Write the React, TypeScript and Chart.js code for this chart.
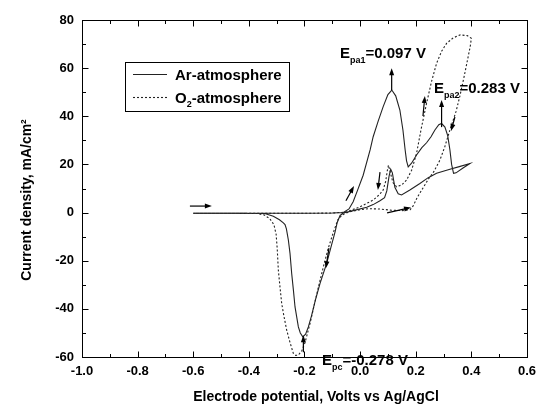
import React, { useEffect, useRef } from "react";
import { Chart, registerables } from "chart.js";

Chart.register(...registerables);

const FONT = "'Liberation Sans', Arial, Helvetica, sans-serif";

// ---- axis ticks ----
const xTickValues = [-1.0, -0.8, -0.6, -0.4, -0.2, 0.0, 0.2, 0.4, 0.6];
const yTickValues = [-60, -40, -20, 0, 20, 40, 60, 80];

// ---- Ar-atmosphere (solid) cyclic voltammogram ----
const arPotential = [
  -0.6, -0.5, -0.4, -0.3, -0.2, -0.1, -0.06, -0.04, -0.025, -0.01, 0.011, 0.036, 0.047, 0.065, 0.083, 0.1,
  0.114, 0.128, 0.143, 0.154, 0.162, 0.167, 0.173, 0.185, 0.203, 0.222, 0.239, 0.255, 0.269, 0.283, 0.293,
  0.305, 0.315, 0.323, 0.329, 0.336, 0.345, 0.37, 0.395,
  0.36, 0.323, 0.275, 0.245, 0.215, 0.179, 0.149, 0.137, 0.125, 0.116, 0.11, 0.104, 0.096, 0.088, 0.07,
  0.047, 0.024, -0.025, -0.06, -0.072, -0.082, -0.09, -0.105, -0.12, -0.144, -0.16, -0.175, -0.186, -0.196,
  -0.206, -0.215, -0.222, -0.234, -0.24, -0.246, -0.252, -0.258, -0.265, -0.27, -0.276, -0.29, -0.312,
  -0.34, -0.372, -0.45, -0.6,
];
const arCurrent = [
  -0.3, -0.3, -0.3, -0.3, -0.3, -0.2, 0.0, 1.5, 4.5, 9, 15.5, 26, 31.5, 38, 44, 49,
  50.9, 48.5, 42.6, 34.3, 26, 21.5, 19, 20.5, 23.9, 27, 29, 31.5, 34.3, 36.5, 37,
  35.5, 32, 26, 20, 16.3, 16.5, 18.5, 20.4,
  19.2, 18, 16.3, 14.5, 12.1, 9.4, 7.3, 7.8, 10.5, 16.5, 18, 15, 9, 6.2, 4.8,
  3.3, 2.2, 0.8, -0.2, -1.2, -4, -8, -14.5, -21, -29.4, -36, -43, -47.5, -50.5,
  -51.6, -50, -47.5, -39.2, -32, -25.3, -17, -11.4, -6.8, -5, -4.3, -3, -1.5,
  -0.5, -0.3, -0.3, -0.3,
];

// ---- O2-atmosphere (dotted) cyclic voltammogram ----
const o2Potential = [
  -0.6, -0.4, -0.2, -0.1, -0.05, 0.0, 0.047, 0.07, 0.083, 0.092, 0.098, 0.102, 0.108, 0.118, 0.131, 0.15,
  0.167, 0.185, 0.203, 0.22, 0.239, 0.257, 0.275, 0.293, 0.311, 0.335, 0.36, 0.385, 0.4,
  0.396, 0.389, 0.375, 0.359, 0.345, 0.323, 0.305, 0.287, 0.265, 0.245, 0.225, 0.205, 0.192, 0.18, 0.15,
  0.11, 0.07, 0.03, 0.0, -0.04, -0.065, -0.08, -0.097, -0.115, -0.132, -0.15, -0.165, -0.18, -0.198, -0.21,
  -0.222, -0.232, -0.24, -0.252, -0.264, -0.274, -0.282, -0.288, -0.294, -0.298, -0.302, -0.31, -0.325,
  -0.345, -0.37, -0.45, -0.6,
];
const o2Current = [
  -0.3, -0.3, -0.3, -0.2, 0.2, 2.4, 5.2, 7.5, 9.4, 13, 17.5, 19.7, 17, 12.5, 10.7, 11.5,
  13.5, 17.5, 24.6, 35, 45.4, 54.5, 62, 67, 70.3, 72.6, 73.8, 73.5, 72.4,
  69, 65, 57, 48.5, 42, 34.3, 27.5, 21.8, 17, 13.8, 10, 6.2, 3, 1.2, 0.8,
  1, 1.5, 1.6, 1.2, 0.3, -1, -3, -8.5, -15, -22.5, -31, -38.5, -46, -54, -57.5,
  -59.2, -59.3, -58.5, -54, -48.8, -43, -37.7, -31, -23.9, -15, -9, -5, -2.5,
  -1, -0.4, -0.3, -0.3,
];

// ---- labels ----
const seriesNames = [
  [["Ar-atmosphere", false]],
  [["O", false], ["2", true], ["-atmosphere", false]],
];
const xTitle = "Electrode potential, Volts vs Ag/AgCl";
const yTitle = "Current density, mA/cm²";

// peak annotations (anchor in data units: potential, current)
const peakLabels = [
  { parts: [["E", false], ["pa1", true], ["=0.097 V", false]], x: -0.0724, y: 64.1 },
  { parts: [["E", false], ["pa2", true], ["=0.283 V", false]], x: 0.2656, y: 49.5 },
  { parts: [["E", false], ["pc", true], ["=-0.278 V", false]], x: -0.137, y: -63.5 },
];

// arrows in data units [x1, y1, x2, y2] (head at x2,y2)
const arrows = [
  [-0.612, 2.7, -0.533, 2.7],
  [-0.112, -14.8, -0.123, -23.1],
  [-0.051, 4.9, -0.022, 11.0],
  [0.0715, 16.8, 0.064, 9.4],
  [0.226, 40.1, 0.233, 48.4],
  [0.341, 39.7, 0.327, 33.9],
  [0.097, -0.1, 0.183, 2.1],
  [0.1135, 50.9, 0.1135, 60.0],
  [0.293, 35.5, 0.293, 46.8],
  [-0.204, -58.0, -0.204, -51.0],
];

function drawRich(ctx: CanvasRenderingContext2D, parts: any[], x: number, y: number, size: number, subSize: number, subDrop: number) {
  let cx = x;
  for (const [t, sub] of parts) {
    ctx.font = `bold ${sub ? subSize : size}px ${FONT}`;
    ctx.fillText(t, cx, sub ? y + subDrop : y);
    cx += ctx.measureText(t).width;
  }
}

function drawArrow(ctx: CanvasRenderingContext2D, x1: number, y1: number, x2: number, y2: number) {
  const head = 7;
  const w = 5;
  const ang = Math.atan2(y2 - y1, x2 - x1);
  ctx.beginPath();
  ctx.moveTo(x1, y1);
  ctx.lineTo(x2 - Math.cos(ang) * 3, y2 - Math.sin(ang) * 3);
  ctx.stroke();
  const bx = x2 - head * Math.cos(ang);
  const by = y2 - head * Math.sin(ang);
  ctx.beginPath();
  ctx.moveTo(x2, y2);
  ctx.lineTo(bx + (w / 2) * Math.sin(ang), by - (w / 2) * Math.cos(ang));
  ctx.lineTo(bx - (w / 2) * Math.sin(ang), by + (w / 2) * Math.cos(ang));
  ctx.closePath();
  ctx.fill();
}

const decor = {
  id: "decor",
  afterDraw(chart: any) {
    const { ctx, chartArea: a, scales } = chart;
    const xs = scales.x;
    const ys = scales.y;
    ctx.save();
    ctx.strokeStyle = "#000";
    ctx.fillStyle = "#000";
    ctx.lineWidth = 1;
    const L = Math.round(a.left) + 0.5;
    const R = Math.round(a.right) + 0.5;
    const T = Math.round(a.top) + 0.5;
    const B = Math.round(a.bottom) + 0.5;
    ctx.strokeRect(L, T, R - L, B - T);
    // inward ticks
    ctx.beginPath();
    for (let k = -10; k <= 6; k++) {
      const p = Math.round(xs.getPixelForValue(k / 10)) + 0.5;
      const len = k % 2 === 0 ? 6 : 3.5;
      ctx.moveTo(p, B);
      ctx.lineTo(p, B - len);
      ctx.moveTo(p, T);
      ctx.lineTo(p, T + len);
    }
    for (let v = -60; v <= 80; v += 10) {
      const p = Math.round(ys.getPixelForValue(v)) + 0.5;
      const len = v % 20 === 0 ? 6 : 3.5;
      ctx.moveTo(L, p);
      ctx.lineTo(L + len, p);
      ctx.moveTo(R, p);
      ctx.lineTo(R - len, p);
    }
    ctx.stroke();

    // legend
    const lx = 125.5, ly = 62.5, lw = 164, lh = 49;
    ctx.strokeRect(lx, ly, lw, lh);
    ctx.textBaseline = "alphabetic";
    ctx.textAlign = "left";
    const rows = [80, 103];
    seriesNames.forEach((parts, i) => {
      const ds = chart.data.datasets[i];
      ctx.save();
      ctx.strokeStyle = ds.borderColor;
      ctx.lineWidth = ds.borderWidth;
      ctx.setLineDash(ds.borderDash || []);
      ctx.beginPath();
      ctx.moveTo(133, rows[i] - 5.5);
      ctx.lineTo(167, rows[i] - 5.5);
      ctx.stroke();
      ctx.restore();
      drawRich(ctx, parts, 175, rows[i], 15, 9, 4);
    });

    // peak labels
    peakLabels.forEach((pl) => {
      drawRich(ctx, pl.parts, xs.getPixelForValue(pl.x), ys.getPixelForValue(pl.y), 15, 9, 5);
    });

    // arrows
    ctx.lineWidth = 1.2;
    arrows.forEach(([x1, y1, x2, y2]) => {
      drawArrow(ctx, xs.getPixelForValue(x1), ys.getPixelForValue(y1), xs.getPixelForValue(x2), ys.getPixelForValue(y2));
    });

    // axis titles
    ctx.font = `bold 14px ${FONT}`;
    ctx.textAlign = "center";
    ctx.textBaseline = "middle";
    ctx.fillText(xTitle, 316, 397);
    ctx.save();
    ctx.translate(27, 200);
    ctx.rotate(-Math.PI / 2);
    ctx.fillText(yTitle, 0, 0);
    ctx.restore();
    ctx.restore();
  },
};

export default function App() {
  const ref = useRef<HTMLCanvasElement>(null);
  useEffect(() => {
    if (!ref.current) return;
    const toPts = (xs: number[], ys: number[]) => xs.map((x, i) => ({ x, y: ys[i] }));
    const chart = new Chart(ref.current, {
      type: "scatter",
      data: {
        datasets: [
          {
            label: "Ar-atmosphere",
            data: toPts(arPotential, arCurrent),
            showLine: true,
            borderColor: "#222",
            borderWidth: 1.1,
            pointRadius: 0,
            tension: 0,
          },
          {
            label: "O2-atmosphere",
            data: toPts(o2Potential, o2Current),
            showLine: true,
            borderColor: "#222",
            borderWidth: 1.1,
            borderDash: [2, 2],
            pointRadius: 0,
            tension: 0,
          },
        ],
      },
      options: {
        animation: false,
        responsive: false,
        devicePixelRatio: 1,
        layout: { padding: { top: 20, right: 16, left: 0, bottom: 0 } },
        plugins: { legend: { display: false }, tooltip: { enabled: false } },
        scales: {
          x: {
            type: "linear",
            min: -1.0,
            max: 0.6,
            afterBuildTicks: (s: any) => {
              s.ticks = xTickValues.map((v) => ({ value: v }));
            },
            afterFit: (s: any) => {
              s.height = 51;
            },
            grid: { display: false, drawTicks: false },
            border: { display: false },
            ticks: {
              color: "#000",
              padding: 7,
              maxRotation: 0,
              font: { family: FONT, size: 13, weight: "bold" },
              callback: (v: any) => Number(v).toFixed(1),
            },
          },
          y: {
            type: "linear",
            min: -60,
            max: 80,
            afterBuildTicks: (s: any) => {
              s.ticks = yTickValues.map((v) => ({ value: v }));
            },
            afterFit: (s: any) => {
              s.width = 82;
            },
            grid: { display: false, drawTicks: false },
            border: { display: false },
            ticks: {
              color: "#000",
              padding: 8,
              font: { family: FONT, size: 13, weight: "bold" },
              callback: (v: any) => String(v),
            },
          },
        },
      },
      plugins: [decor],
    } as any);
    return () => chart.destroy();
  }, []);
  return (
    <div style={{ position: "absolute", left: 0, top: 0, width: 543, height: 408, background: "#fff" }}>
      <canvas ref={ref} width={543} height={408} style={{ width: 543, height: 408 }} />
    </div>
  );
}
